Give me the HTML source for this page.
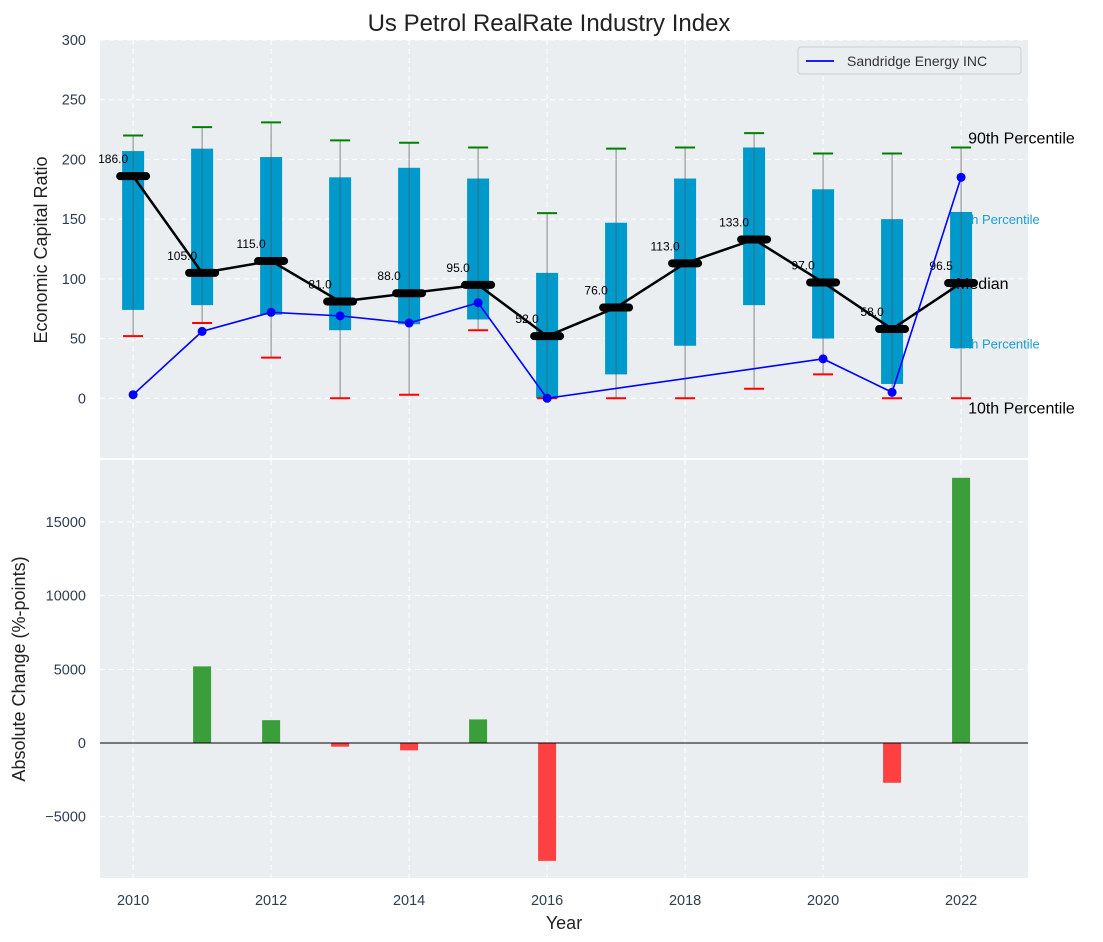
<!DOCTYPE html>
<html><head><meta charset="utf-8"><style>
body{margin:0;background:#fff}svg{display:block;font-family:"Liberation Sans","DejaVu Sans",sans-serif}
</style></head><body>
<svg id="c" width="1103" height="942"></svg>
<script>
const years=[2010,2011,2012,2013,2014,2015,2016,2017,2018,2019,2020,2021,2022];
const boxLow=[74,78,70,57,62,66,0,20,44,78,50,12,42];
const boxHigh=[207,209,202,185,193,184,105,147,184,210,175,150,156];
const whiskLow=[52,63,34,0,3,57,0,0,0,8,20,0,0];
const whiskHigh=[220,227,231,216,214,210,155,209,210,222,205,205,210];
const medians=[186,105,115,81,88,95,52,76,113,133,97,58,96.5];
const company=[3,56,72,69,63,80,0,null,null,null,33,5,185];
const changes=[0,5200,1550,-250,-500,1600,-8000,0,0,0,0,-2700,18000];
const topTicks=[0,50,100,150,200,250,300];
const botTicks=[-5000,0,5000,10000,15000];
const xTicks=[2010,2012,2014,2016,2018,2020,2022];

const NS="http://www.w3.org/2000/svg",svg=document.getElementById('c');
function el(t,a,txt){const e=document.createElementNS(NS,t);for(const k in a)e.setAttribute(k,a[k]);if(txt!=null)e.textContent=txt;svg.appendChild(e);return e;}
const L=100,R=1028;
const X=v=>L+(v-2009.52)/(2022.97-2009.52)*(R-L);
const T0=40,T1=458,Y=v=>T0+(300-v)/(350)*(T1-T0);
const B0=460,B1=878,YB=v=>B0+(19208-v)/(19208+9163)*(B1-B0);
const tc="#2d3e50";
let e=el('rect',{x:L,y:T0,width:R-L,height:T1-T0,fill:"#eaeef0"});

e=el('rect',{x:L,y:B0,width:R-L,height:B1-B0,fill:"#eaeef0"});

xTicks.forEach(v=>{el('line',{x1:X(v),x2:X(v),y1:T0,y2:T1,stroke:"#fff","stroke-dasharray":"5,4","stroke-width":1});el('line',{x1:X(v),x2:X(v),y1:B0,y2:B1,stroke:"#fff","stroke-dasharray":"5,4","stroke-width":1});
 e=el('text',{x:X(v),y:905,"text-anchor":"middle","font-size":14.5,fill:tc},v);});
topTicks.forEach(v=>{el('line',{x1:L,x2:R,y1:Y(v),y2:Y(v),stroke:"#fff","stroke-dasharray":"5,4"});
 e=el('text',{x:86,y:Y(v)+5,"text-anchor":"end","font-size":14.5,fill:tc},v);});
botTicks.forEach(v=>{el('line',{x1:L,x2:R,y1:YB(v),y2:YB(v),stroke:"#fff","stroke-dasharray":"5,4"});
 e=el('text',{x:86,y:YB(v)+5,"text-anchor":"end","font-size":14.5,fill:tc},v<0?'\u2212'+(-v):v);});
const lx=X(2022)-8;
e=el('text',{x:lx,y:Y(150)+5,"font-size":13,fill:"#1a9fd0"},"75th Percentile");
e=el('text',{x:lx,y:Y(46)+5,"font-size":13,fill:"#1a9fd0"},"25th Percentile");
years.forEach((yr,i)=>{const cx=X(yr);
 e=el('line',{x1:cx,x2:cx,y1:Y(whiskHigh[i]),y2:Y(whiskLow[i]),stroke:"#888","stroke-width":1});
 e=el('rect',{x:cx-11,y:Y(boxHigh[i]),width:22,height:Y(boxLow[i])-Y(boxHigh[i]),fill:"#0099cc"});
 el('line',{x1:cx,x2:cx,y1:Y(boxHigh[i]),y2:Y(boxLow[i]),stroke:"#555","stroke-width":1,opacity:0.6});
 e=el('line',{x1:cx-10,x2:cx+10,y1:Y(whiskHigh[i]),y2:Y(whiskHigh[i]),stroke:"green","stroke-width":2});
 e=el('line',{x1:cx-10,x2:cx+10,y1:Y(whiskLow[i]),y2:Y(whiskLow[i]),stroke:"red","stroke-width":2});
});
e=el('polyline',{points:years.map((y,i)=>X(y)+','+Y(medians[i])).join(' '),fill:"none",stroke:"#000","stroke-width":2.5});
years.forEach((yr,i)=>{const cx=X(yr),cy=Y(medians[i]);
 e=el('line',{x1:cx-13,x2:cx+13,y1:cy,y2:cy,stroke:"#000","stroke-width":8,"stroke-linecap":"round"});
 e=el('text',{x:cx-20,y:cy-13,"text-anchor":"middle","font-size":12,fill:"#000"},medians[i].toFixed(1));
});
const pts=[];years.forEach((y,i)=>{if(company[i]!=null)pts.push([X(y),Y(company[i])]);});
e=el('polyline',{points:pts.map(p=>p.join(',')).join(' '),fill:"none",stroke:"blue","stroke-width":1.6});
pts.forEach(p=>{e=el('circle',{cx:p[0],cy:p[1],r:4.5,fill:"blue"});});
const rx=X(2022)+7;
e=el('text',{x:rx,y:Y(210)-4,"font-size":16,fill:"#000"},"90th Percentile");
e=el('text',{x:X(2022)-5,y:Y(96.5)+6,"font-size":16,fill:"#000"},"Median");
e=el('text',{x:rx,y:Y(0)+15,"font-size":16,fill:"#000"},"10th Percentile");
e=el('rect',{x:798,y:47,width:223,height:27,fill:"#eaeef0",stroke:"#ccc",rx:3});
el('line',{x1:806,x2:834,y1:61,y2:61,stroke:"blue","stroke-width":1.8});
e=el('text',{x:847,y:66,"font-size":14,fill:"#333"},"Sandridge Energy INC");
years.forEach((yr,i)=>{const v=changes[i];if(!v)return;const y0=YB(0),y1=YB(v);
 e=el('rect',{x:X(yr)-9,y:Math.min(y0,y1),width:18,height:Math.abs(y1-y0),fill:v>0?"#3a9e3a":"#ff4040"});});
el('line',{x1:L,x2:R,y1:YB(0),y2:YB(0),stroke:"#000","stroke-width":1});
e=el('text',{x:549,y:31,"text-anchor":"middle","font-size":24,fill:"#222"},"Us Petrol RealRate Industry Index");
e=el('text',{x:0,y:0,"text-anchor":"middle","font-size":18,fill:"#222",transform:"translate(47,250) rotate(-90)"},"Economic Capital Ratio");
e=el('text',{x:0,y:0,"text-anchor":"middle","font-size":18,fill:"#222",transform:"translate(25,669) rotate(-90)"},"Absolute Change (%-points)");
e=el('text',{x:564,y:929,"text-anchor":"middle","font-size":18,fill:"#222"},"Year");
</script>
</body></html>
